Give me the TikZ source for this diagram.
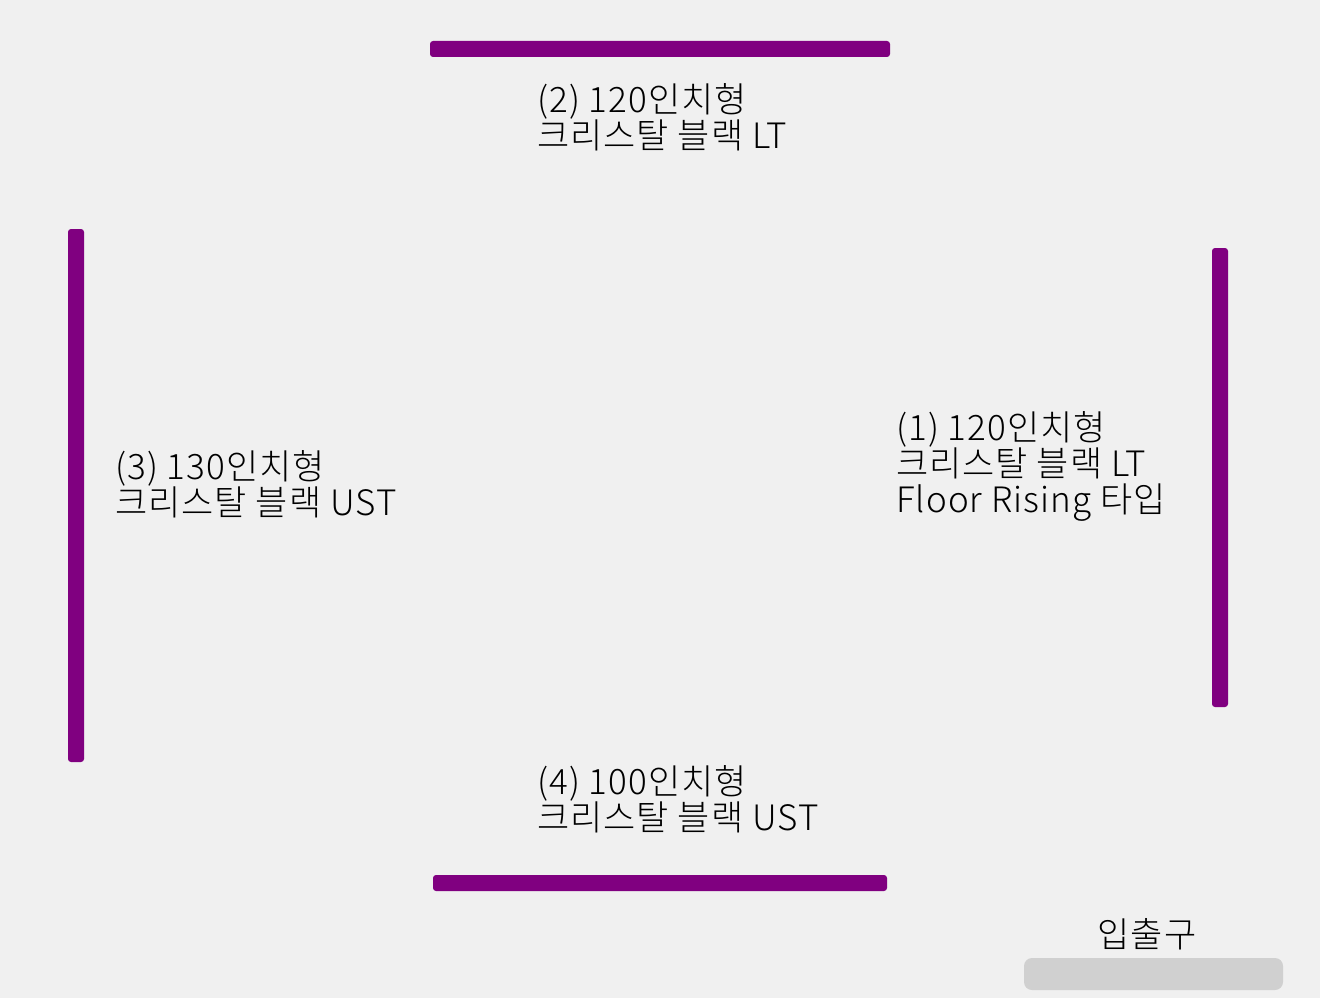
\documentclass[tikz,border=0pt]{standalone}
\usepackage{fontspec}
\setmainfont{Noto Sans CJK KR}[UprightFont = {* Light}, LetterSpace = 3]
\usepackage{tikz}

\definecolor{screenpurple}{RGB}{128,0,128}
\definecolor{doorgray}{RGB}{208,208,208}
\definecolor{roombg}{RGB}{240,240,240}

\begin{document}
\begin{tikzpicture}[
  x = 1pt, y = -1pt,
  screen/.style={rectangle, rounded corners = 3pt, fill = screenpurple, inner sep = 0pt},
  door/.style={rectangle, rounded corners = 8pt, fill = doorgray,
    inner sep = 0pt, minimum width = 259pt, minimum height = 32pt},
  label/.style={anchor = west, align = left, inner sep = 0pt, font = \fontsize{35}{36}\selectfont}
  ]

\fill [roombg] (0,0) rectangle (1320,998);
\useasboundingbox (0,0) rectangle (1320,998);

\node [screen, minimum width = 460pt, minimum height = 16pt] (scr_top) at (660,49) {};
\node [screen, minimum width = 16pt, minimum height = 533pt] (scr_left) at (76,495.5) {};
\node [screen, minimum width = 16pt, minimum height = 459pt] (scr_right) at (1220,477.5) {};
\node [screen, minimum width = 454pt, minimum height = 16pt] (scr_bottom) at (660,883) {};
\node [door] (entrance) at (1153.5,974) {};

\node [label] (lbl_two) at (537,117) {(2) 120인치형\\크리스탈 블랙 LT};
\node [label] (lbl_one) at (896,466) {(1) 120인치형\\크리스탈 블랙 LT\\Floor Rising 타입};
\node [label] (lbl_three) at (115,484) {(3) 130인치형\\크리스탈 블랙 UST};
\node [label] (lbl_four) at (537,799) {(4) 100인치형\\크리스탈 블랙 UST};
\node [label, anchor = center] (lbl_entrance) at (1147,934) {입출구};
\end{tikzpicture}
\end{document}
